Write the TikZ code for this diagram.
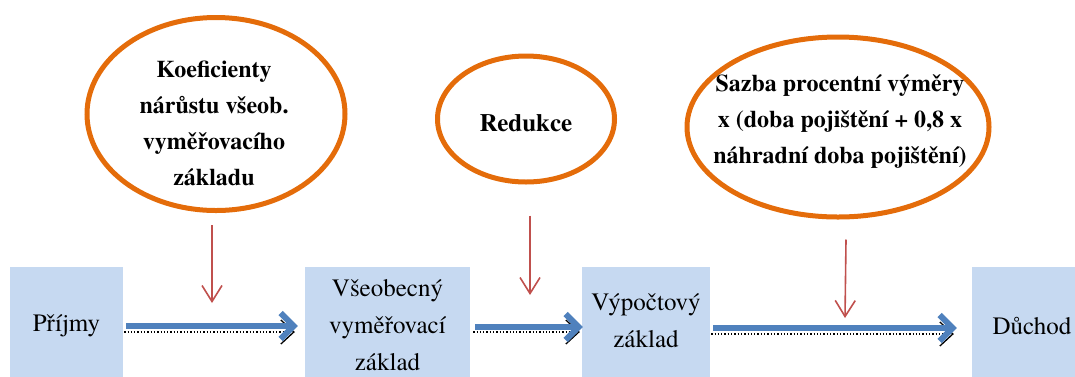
\documentclass[tikz,border=0pt]{standalone}
\usepackage{fontspec}
\setmainfont{texgyretermes}[Extension=.otf, UprightFont=*-regular, BoldFont=*-bold, ItalicFont=*-italic, BoldItalicFont=*-bolditalic]
\usetikzlibrary{arrows.meta,calc,shapes.geometric}
\definecolor{ellorange}{HTML}{E46C0A}
\definecolor{boxblue}{HTML}{C6D9F1}
\definecolor{arrblue}{HTML}{4F81BD}
\definecolor{arrred}{HTML}{C0504D}
\tikzset{
  ell/.style={draw=ellorange, line width=5pt, ellipse, inner sep=0pt},
  elltext/.style={align=center, font=\bfseries\fontsize{24}{36}\selectfont, inner sep=0pt},
  boxnode/.style={fill=boxblue, inner sep=0pt, align=center, font=\fontsize{25}{37}\selectfont},
  bluearrow/.style={draw=arrblue, line width=6pt, -{Straight Barb[length=13pt,width=26pt]}},
  shadowarrow/.style={draw=black, line width=1.3pt, dotted, -{Straight Barb[length=13pt,width=24pt]}},
  redarrow/.style={draw=arrred, line width=1.6pt, -{Straight Barb[length=16pt,width=20pt]}},
}
\begin{document}
\begin{tikzpicture}[x=1pt,y=-1pt]
\useasboundingbox (0,0) rectangle (1075,376);
\clip (0,0) rectangle (1075,376);
% ellipses
\node[ell, minimum width=258pt, minimum height=193pt] (e1) at (216,114) {};
\node[elltext] (t1) at (214,123) {Koeficienty\\nárůstu všeob.\\vyměřovacího\\základu};
\node[ell, minimum width=177pt, minimum height=126pt] (e2) at (526,119) {};
\node[elltext, font=\bfseries\fontsize{25}{36}\selectfont] (t2) at (526,123) {Redukce};
\node[ell, minimum width=302pt, minimum height=180pt] (e3) at (838,127) {};
\node[elltext] (t3) at (840,122) {Sazba procentní výměry\\x (doba pojištění + 0,8 x\\náhradní doba pojištění)};
% boxes
\node[boxnode, minimum width=113pt, minimum height=118pt] (b1) at (66.5,326) {Příjmy};
\node[boxnode, minimum width=165pt, minimum height=118pt] (b2) at (387.5,326) {};
\node[boxnode] (b2t) at (387.5,325) {Všeobecný\\vyměřovací\\základ};
\node[boxnode, minimum width=128pt, minimum height=118pt] (b3) at (646,326) {};
\node[boxnode] (b3t) at (646,321) {Výpočtový\\základ};
\node[boxnode, minimum width=120pt, minimum height=118pt] (b4) at (1032,326) {Důchod};
% blue arrows with dotted shadow
\draw[shadowarrow, shorten <=1pt, shorten >=10pt] ([yshift=-6pt]b1.east) -- ([yshift=-6pt]b2.west);
\draw[bluearrow, shorten <=3pt, shorten >=7pt] (b1.east) -- (b2.west);
\draw[shadowarrow, shorten <=3pt, shorten >=2pt] ([yshift=-6pt]b2.east) -- ([yshift=-6pt]b3.west);
\draw[bluearrow, shorten <=5pt, shorten >=-1pt] ([yshift=-1pt]b2.east) -- ([yshift=-1pt]b3.west);
\draw[shadowarrow, shorten <=1pt, shorten >=18pt] ([yshift=-8pt]b3.east) -- ([yshift=-8pt]b4.west);
\draw[bluearrow, shorten <=3pt, shorten >=15pt] ([yshift=-2pt]b3.east) -- ([yshift=-2pt]b4.west);
% red arrows
\coordinate (r1) at (212,303);
\coordinate (r2) at (530,295);
\coordinate (r3) at (845,318);
\draw[redarrow] ($(e1.south)+(-4,12)$) -- (r1);
\draw[redarrow] ($(e2.south)+(4,31)$) -- (r2);
\draw[redarrow] ($(e3.south)+(8,20)$) -- (r3);
\end{tikzpicture}
\end{document}
